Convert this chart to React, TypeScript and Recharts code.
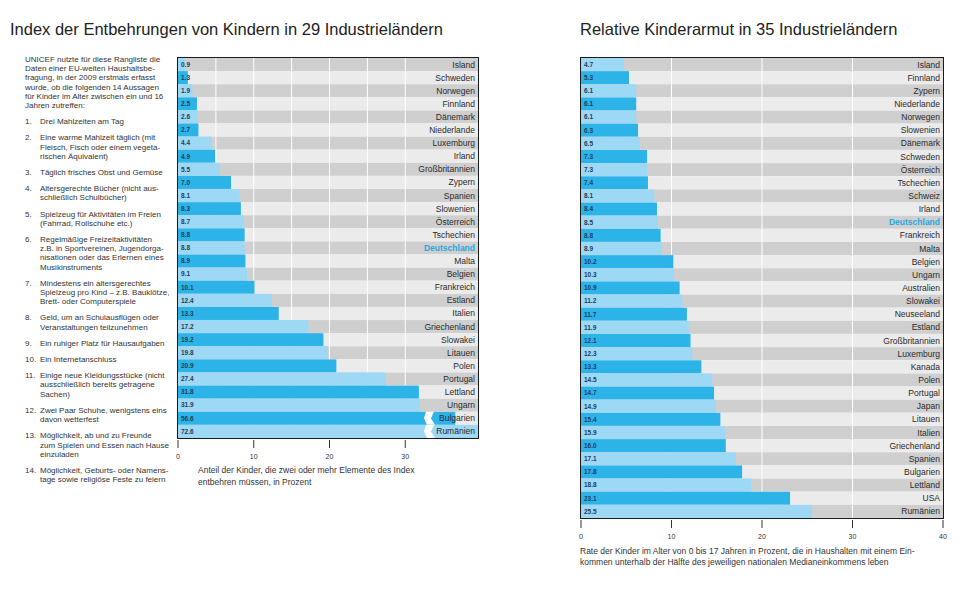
import React from 'react';
import { BarChart, Bar, XAxis, YAxis } from 'recharts';

// Index der Entbehrungen (29 Länder)
const deprivationCountries = [
  'Island', 'Schweden', 'Norwegen', 'Finnland', 'Dänemark', 'Niederlande', 'Luxemburg', 'Irland',
  'Großbritannien', 'Zypern', 'Spanien', 'Slowenien', 'Österreich', 'Tschechien', 'Deutschland',
  'Malta', 'Belgien', 'Frankreich', 'Estland', 'Italien', 'Griechenland', 'Slowakei', 'Litauen',
  'Polen', 'Portugal', 'Lettland', 'Ungarn', 'Bulgarien', 'Rumänien',
];
const deprivationValues = [
  0.9, 1.3, 1.9, 2.5, 2.6, 2.7, 4.4, 4.9, 5.5, 7.0, 8.1, 8.3, 8.7, 8.8, 8.8,
  8.9, 9.1, 10.1, 12.4, 13.3, 17.2, 19.2, 19.8, 20.9, 27.4, 31.8, 31.9, 56.6, 72.6,
];
const deprivationTicks = [0, 10, 20, 30];
const deprivationGrid = [5, 10, 15, 20, 25, 30];

// Relative Kinderarmut (35 Länder)
const povertyCountries = [
  'Island', 'Finnland', 'Zypern', 'Niederlande', 'Norwegen', 'Slowenien', 'Dänemark', 'Schweden',
  'Österreich', 'Tschechien', 'Schweiz', 'Irland', 'Deutschland', 'Frankreich', 'Malta', 'Belgien',
  'Ungarn', 'Australien', 'Slowakei', 'Neuseeland', 'Estland', 'Großbritannien', 'Luxemburg',
  'Kanada', 'Polen', 'Portugal', 'Japan', 'Litauen', 'Italien', 'Griechenland', 'Spanien',
  'Bulgarien', 'Lettland', 'USA', 'Rumänien',
];
const povertyValues = [
  4.7, 5.3, 6.1, 6.1, 6.1, 6.3, 6.5, 7.3, 7.3, 7.4, 8.1, 8.4, 8.5, 8.8, 8.9, 10.2,
  10.3, 10.9, 11.2, 11.7, 11.9, 12.1, 12.3, 13.3, 14.5, 14.7, 14.9, 15.4, 15.9, 16.0, 17.1,
  17.8, 18.8, 23.1, 25.5,
];
const povertyTicks = [0, 10, 20, 30, 40];
const povertyGrid = [10, 20, 30];

const introLines = [
  'UNICEF nutzte für diese Rangliste die',
  'Daten einer EU-weiten Haushaltsbe-',
  'fragung, in der 2009 erstmals erfasst',
  'wurde, ob die folgenden 14 Aussagen',
  'für Kinder im Alter zwischen ein und 16',
  'Jahren zutreffen:',
];
const indexItems = [
  ['Drei Mahlzeiten am Tag'],
  ['Eine warme Mahlzeit täglich (mit', 'Fleisch, Fisch oder einem vegeta-', 'rischen Äquivalent)'],
  ['Täglich frisches Obst und Gemüse'],
  ['Altersgerechte Bücher (nicht aus-', 'schließlich Schulbücher)'],
  ['Spielzeug für Aktivitäten im Freien', '(Fahrrad, Rollschuhe etc.)'],
  ['Regelmäßige Freizeitaktivitäten', 'z.B. in Sportvereinen, Jugendorga-', 'nisationen oder das Erlernen eines', 'Musikinstruments'],
  ['Mindestens ein altersgerechtes', 'Spielzeug pro Kind – z.B. Bauklötze,', 'Brett- oder Computerspiele'],
  ['Geld, um an Schulausflügen oder', 'Veranstaltungen teilzunehmen'],
  ['Ein ruhiger Platz für Hausaufgaben'],
  ['Ein Internetanschluss'],
  ['Einige neue Kleidungsstücke (nicht', 'ausschließlich bereits getragene', 'Sachen)'],
  ['Zwei Paar Schuhe, wenigstens eins', 'davon wetterfest'],
  ['Möglichkeit, ab und zu Freunde', 'zum Spielen und Essen nach Hause', 'einzuladen'],
  ['Möglichkeit, Geburts- oder Namens-', 'tage sowie religiöse Feste zu feiern'],
];

const FONT = '"Liberation Sans", Arial, Helvetica, sans-serif';
const BAR_DARK = '#2cb4e9';
const BAR_LIGHT = '#9dd8f5';
const STRIPE_DARK = '#cfcfcf';
const STRIPE_LIGHT = '#ebebeb';
const HIGHLIGHT = '#29a8e0';
// bars beyond the axis are drawn with a break that skips this many units
const BREAK_AT = 32.6;
const BREAK_SPAN = 20;

const makeBackground = (max: number, grid: number[]) => (props: any) => {
  const { x, y, width, height, index } = props;
  return (
    <g key={`bg-${index}`}>
      <rect x={x} y={y} width={width} height={height} fill={index % 2 === 0 ? STRIPE_DARK : STRIPE_LIGHT} />
      {grid.map((v) => {
        const gx = x + (width * v) / max;
        return <line key={v} x1={gx} x2={gx} y1={y} y2={y + height} stroke="#fff" strokeWidth={1} />;
      })}
    </g>
  );
};

const makeShape = (max: number, plotRight: number) => (props: any) => {
  const { x, y, width, height, index, payload } = props;
  const right = props.background ? props.background.x + props.background.width : plotRight;
  const over = payload.value > max;
  const shown = over ? Math.min(payload.value - BREAK_SPAN, max) : payload.value;
  const w = Math.max(0, Math.min((width * shown) / payload.value, right - x));
  const cy = y + height / 2;
  const isDe = payload.country === 'Deutschland';
  const bx = x + ((right - x) * BREAK_AT) / max;
  return (
    <g key={`bar-${index}`}>
      <rect x={x} y={y} width={w} height={height} fill={index % 2 === 0 ? BAR_LIGHT : BAR_DARK} />
      {over && (
        <polygon
          points={`${bx + 1},${y} ${bx + 9},${y} ${bx + 6},${cy} ${bx + 10},${y + height} ${bx + 2},${y + height} ${bx - 1},${cy}`}
          fill="#fff"
        />
      )}
      <text x={x + 3} y={cy + 2.3} fontSize={6.5} fontWeight="bold" fill="#1f3d5c" fontFamily={FONT}>
        {payload.value.toFixed(1)}
      </text>
      <text
        x={right - 3}
        y={cy + 3}
        textAnchor="end"
        fontSize={8.5}
        fontWeight={isDe ? 'bold' : 'normal'}
        fill={isDe ? HIGHLIGHT : '#2a2a2a'}
        fontFamily={FONT}
      >
        {payload.country}
      </text>
    </g>
  );
};

const AxisTick = (props: any) => {
  const { x, y, payload } = props;
  return (
    <g>
      <line x1={x} x2={x} y1={y + 2} y2={y + 10} stroke="#333" strokeWidth={1} />
      <text x={x} y={y + 21} textAnchor="middle" fontSize={7} fill="#333" fontFamily={FONT}>
        {payload.value}
      </text>
    </g>
  );
};

interface RankChartProps {
  countries: string[];
  values: number[];
  ticks: number[];
  grid: number[];
  max: number;
  plotWidth: number;
  plotHeight: number;
}

const RankChart = ({ countries, values, ticks, grid, max, plotWidth, plotHeight }: RankChartProps) => {
  const data = countries.map((country, i) => ({ country, value: values[i] }));
  const margin = { top: 0, right: 20, left: 10, bottom: 0 };
  return (
    <BarChart
      width={plotWidth + margin.left + margin.right}
      height={plotHeight + 40}
      data={data}
      layout="vertical"
      margin={margin}
      barCategoryGap={0}
      style={{ overflow: 'visible' }}
    >
      <XAxis
        type="number"
        domain={[0, max]}
        allowDataOverflow
        ticks={ticks}
        axisLine={false}
        tickLine={false}
        tickSize={0}
        tickMargin={0}
        height={40}
        tick={<AxisTick />}
        interval={0}
      />
      <YAxis type="category" dataKey="country" hide width={0} />
      <Bar
        dataKey="value"
        isAnimationActive={false}
        background={makeBackground(max, grid)}
        shape={makeShape(max, margin.left + plotWidth)}
      />
    </BarChart>
  );
};

export default function App() {
  return (
    <div
      style={{
        position: 'absolute',
        left: 0,
        top: 0,
        width: 974,
        height: 608,
        background: '#fff',
        fontFamily: FONT,
        color: '#2a2a2a',
        overflow: 'hidden',
      }}
    >
      <div style={{ position: 'absolute', left: 10, top: 20, fontSize: 16.5, whiteSpace: 'nowrap', color: '#222' }}>
        Index der Entbehrungen von Kindern in 29 Industrieländern
      </div>
      <div style={{ position: 'absolute', left: 580, top: 20, fontSize: 16.5, whiteSpace: 'nowrap', color: '#222' }}>
        Relative Kinderarmut in 35 Industrieländern
      </div>

      <div style={{ position: 'absolute', left: 25, top: 55, width: 150, fontSize: 8, lineHeight: '9.2px', color: '#333' }}>
        {introLines.map((l) => (
          <div key={l} style={{ whiteSpace: 'nowrap' }}>{l}</div>
        ))}
        {indexItems.map((lines, i) => (
          <div key={i} style={{ display: 'flex', marginTop: 7 }}>
            <div style={{ width: 15, flex: 'none' }}>{i + 1}.</div>
            <div>
              {lines.map((l) => (
                <div key={l} style={{ whiteSpace: 'nowrap' }}>{l}</div>
              ))}
            </div>
          </div>
        ))}
      </div>

      <div style={{ position: 'absolute', left: 168, top: 58 }}>
        <RankChart
          countries={deprivationCountries}
          values={deprivationValues}
          ticks={deprivationTicks}
          grid={deprivationGrid}
          max={39.6}
          plotWidth={300}
          plotHeight={380}
        />
      </div>
      <div style={{ position: 'absolute', left: 177, top: 57, width: 302, height: 382, border: '1px solid #1a1a1a', boxSizing: 'border-box', pointerEvents: 'none' }} />
      <div style={{ position: 'absolute', left: 198, top: 464, fontSize: 8.5, lineHeight: '12px', color: '#333', whiteSpace: 'nowrap' }}>
        Anteil der Kinder, die zwei oder mehr Elemente des Index
        <br />
        entbehren müssen, in Prozent
      </div>

      <div style={{ position: 'absolute', left: 571, top: 58 }}>
        <RankChart
          countries={povertyCountries}
          values={povertyValues}
          ticks={povertyTicks}
          grid={povertyGrid}
          max={40}
          plotWidth={362}
          plotHeight={460}
        />
      </div>
      <div style={{ position: 'absolute', left: 580, top: 57, width: 364, height: 462, border: '1px solid #1a1a1a', boxSizing: 'border-box', pointerEvents: 'none' }} />
      <div style={{ position: 'absolute', left: 580, top: 546, fontSize: 8.5, lineHeight: '11px', color: '#333', whiteSpace: 'nowrap' }}>
        Rate der Kinder im Alter von 0 bis 17 Jahren in Prozent, die in Haushalten mit einem Ein-
        <br />
        kommen unterhalb der Hälfte des jeweiligen nationalen Medianeinkommens leben
      </div>
    </div>
  );
}
